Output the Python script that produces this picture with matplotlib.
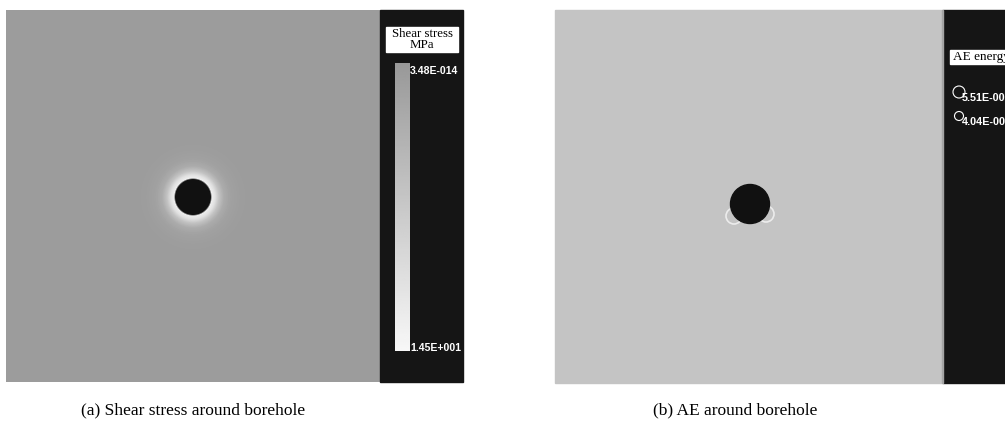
import numpy as np
import matplotlib
matplotlib.use("Agg")
import matplotlib.pyplot as plt
from matplotlib.patches import Circle, Rectangle

# ---- data ----
captions = ["(a) Shear stress around borehole", "(b) AE around borehole"]
cbar_title = "Shear stress\nMPa"
cbar_labels = ["3.48E-014", "1.45E+001"]
ae_title = "AE energy"
ae_labels = ["5.51E-005", "4.04E-005"]
ae_legend_radii = [6.0, 4.5]
# radial shear-stress profile around the borehole (pixels from centre -> grey level)
halo_r = [0, 17.5, 19, 22, 26, 31, 38, 48, 60]
halo_v = [0.07, 0.07, 0.93, 0.88, 0.76, 0.67, 0.63, 0.615, 0.61]
# AE events near hole: (dx, dy, r) relative to hole centre
ae_dx = [-16, 16]
ae_dy = [12, 10]
ae_r = [8, 8]

W, H = 1005, 426
fig = plt.figure(figsize=(W / 100, H / 100), dpi=100)
ax = fig.add_axes([0, 0, 1, 1])
ax.set_xlim(0, W)
ax.set_ylim(H, 0)
ax.axis("off")

dark = "#151515"
# ---- left panel ----
L0, L1, LB, T, B = 6, 380, 463, 10, 382
cx, cy = 193, 197
xs = np.arange(L0, L1) + 0.5
ys = np.arange(T, B) + 0.5
X, Y = np.meshgrid(xs, ys)
R = np.hypot(X - cx, Y - cy)
img = np.interp(R, halo_r, halo_v)
ax.imshow(img, cmap="gray", vmin=0, vmax=1, extent=(L0, L1, B, T),
          interpolation="bilinear", aspect="auto", zorder=1)
ax.add_patch(Rectangle((L1, T), LB - L1, B - T, color=dark, zorder=1))
# colorbar gradient
grad = np.linspace(0.60, 0.97, 200)[:, None]
ax.imshow(grad, cmap="gray", vmin=0, vmax=1, extent=(395, 410, 351, 63),
          aspect="auto", zorder=2)
ax.add_patch(Rectangle((386, 27), 72, 25, color="white", zorder=2))
ax.text(422, 39.5, cbar_title, ha="center", va="center", fontsize=9.3,
        family="Liberation Serif", linespacing=0.82, zorder=3)
ax.text(410, 71, cbar_labels[0], color="white", fontsize=7.6, weight="bold",
        family="Liberation Sans", ha="left", va="center", zorder=3)
ax.text(410, 348, cbar_labels[1], color="white", fontsize=7.6, weight="bold",
        family="Liberation Sans", ha="left", va="center", zorder=3)

# ---- right panel ----
R0, R1, RB = 555, 943, 1005
hx, hy = 750, 204
ax.add_patch(Rectangle((R0, T), R1 - R0, B + 1 - T, color="#c4c4c4", zorder=1))
ax.add_patch(Rectangle((R1, T), RB - R1, B + 1 - T, color=dark, zorder=1))
ax.add_patch(Rectangle((R1 - 1.5, T), 1.5, B + 1 - T, color="#a5a5a5", zorder=1))
for dx, dy, r in zip(ae_dx, ae_dy, ae_r):
    ax.add_patch(Circle((hx + dx, hy + dy), r, fill=False, ec="#ececec",
                        lw=1.2, zorder=2))
ax.add_patch(Circle((hx, hy), 19.5, color="#111111", zorder=3))
ax.add_patch(Rectangle((950, 50), 60, 14, color="white", zorder=2))
ax.text(953, 57, ae_title, ha="left", va="center", fontsize=9.5,
        family="Liberation Serif", zorder=3)
for i, (lab, rr) in enumerate(zip(ae_labels, ae_legend_radii)):
    yy = 93 + i * 24
    ax.add_patch(Circle((959, yy - 1), rr, fill=False, ec="white", lw=0.8, zorder=3))
    ax.text(962, yy + 5, lab, color="white", fontsize=7.8, weight="bold",
            family="Liberation Sans", ha="left", va="center", zorder=3)

# ---- captions ----
ax.text(193, 410, captions[0], ha="center", va="center", fontsize=12.5,
        family="Liberation Serif")
ax.text(735, 410, captions[1], ha="center", va="center", fontsize=12.5,
        family="Liberation Serif")

fig.savefig("out.png", dpi=100)
